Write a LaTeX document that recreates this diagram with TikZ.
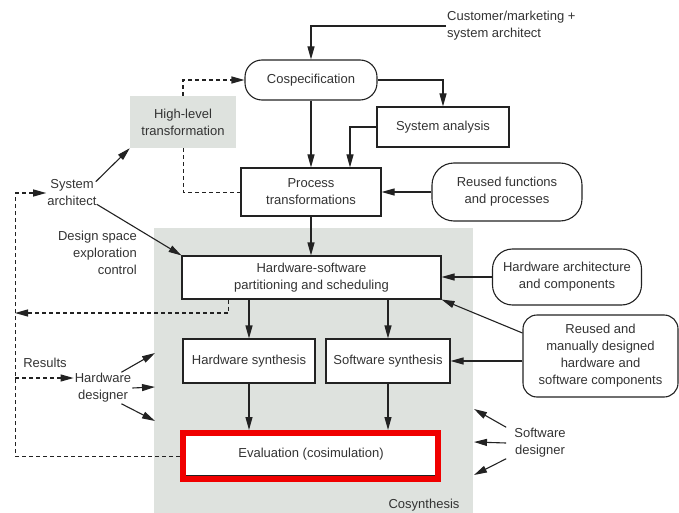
\documentclass[tikz,border=0pt]{standalone}
\usepackage{fontspec}
\setmainfont{Liberation Sans}
\usetikzlibrary{arrows.meta}
\definecolor{ink}{RGB}{34,34,34}
\definecolor{txt}{RGB}{51,51,51}
\definecolor{panel}{RGB}{222,226,222}
\definecolor{hilite}{RGB}{240,0,0}
\begin{document}
\begin{tikzpicture}[x=1pt,y=-1pt,
  every node/.style={font=\fontsize{13}{17}\selectfont, text=txt, align=center, inner sep=1pt},
  box/.style={draw=ink, fill=white, line width=1.1pt},
  pill/.style={draw=ink, fill=white, line width=1.1pt, rounded corners=#1},
  shade/.style={fill=panel},
  arr/.style={draw=ink, line width=1.1pt, -{Triangle[length=13pt,width=7pt]}},
  dsh/.style={draw=ink, line width=1pt, dash pattern=on 4pt off 3pt},
  evalframe/.style={draw=hilite, line width=5.7pt, inner sep=0pt}]
\useasboundingbox (0,0) rectangle (679,513);

% cosynthesis panel
\fill[panel] (154,228) rectangle (473,513);
\node (cosl) at (424,505) {Cosynthesis};

% upper flow
\node[anchor=west, align=left] (cust) at (446,26) {Customer/marketing +\\system architect};
\node[pill=17pt, minimum width=132, minimum height=40] (cospec) at (311,80) {Cospecification};
\node[box, minimum width=132, minimum height=40] (sysan) at (443,127) {System analysis};
\node[box, minimum width=140, minimum height=48] (proc) at (311,192) {Process\\transformations};
\node[pill=22pt, minimum width=150, minimum height=58] (rfn) at (507,192) {Reused functions\\and processes};
\node[shade, minimum width=106, minimum height=52] (hl) at (183,122) {High-level\\transformation};

% architect and control
\node (sa) at (72,193) {System\\architect};
\node[anchor=east, align=right] (dse) at (138,253) {Design space\\exploration\\control};

% partitioning and synthesis
\node[box, minimum width=259, minimum height=43] (hwsw) at (311.5,277.5) {Hardware-software\\partitioning and scheduling};
\node[pill=20pt, minimum width=149, minimum height=56] (hwa) at (567,277) {Hardware architecture\\and components};
\node[pill=14pt, minimum width=155, minimum height=82] (rm) at (600.5,356) {Reused and\\manually designed\\hardware and\\software components};
\node[box, minimum width=132, minimum height=44] (hws) at (249,361) {Hardware synthesis};
\node[box, minimum width=124, minimum height=44] (sws) at (388,361) {Software synthesis};

% evaluation
\node[box, minimum width=254, minimum height=43] (ev) at (311,454.5) {Evaluation (cosimulation)};
\node[evalframe, minimum width=255.3, minimum height=46.3] (evf) at (310.5,456) {};

% designers
\node (hd) at (103,388) {Hardware\\designer};
\node (res) at (45,363) {Results};
\node (sd) at (540,443) {Software\\designer};

% feedback coordinates
\coordinate (lt) at (15,193);
\coordinate (fb) at (15,313);
\coordinate (rs) at (15,378);
\coordinate (h1) at (155,353);
\coordinate (h2) at (155,387);
\coordinate (h3) at (155,421);
\coordinate (s1) at (474,409);
\coordinate (s2) at (474,442);
\coordinate (s3) at (474,475);

% solid connectors
\draw[arr] (cust.west) -| (cospec.north);
\draw[arr] (cospec.east) -| (sysan.north);
\draw[arr] (cospec.south) -- (proc.north);
\draw[arr] (sysan.west) -| ([xshift=39pt]proc.north);
\draw[arr] (rfn.west) -- (proc.east);
\draw[arr] (proc.south) -- (hwsw.north -| proc.south);
\draw[arr] (hwa.west) -- (hwa.west -| hwsw.east);
\draw[arr] ([yshift=23pt]rm.west) -- (hwsw.south east);
\draw[arr] (rm.west |- sws.east) -- (sws.east);
\draw[arr] (hwsw.south -| hws.north) -- (hws.north);
\draw[arr] (hwsw.south -| sws.north) -- (sws.north);
\draw[arr] (hws.south) -- (hws.south |- evf.north);
\draw[arr] (sws.south) -- (sws.south |- evf.north);
\draw[arr] ([shift={(-2pt,-3pt)}]sa.north east) -- (hl.south west);
\draw[arr] ([shift={(-1pt,3pt)}]sa.south east) -- (hwsw.north west);
\draw[arr] ([xshift=-11pt]hd.north east) -- (h1);
\draw[arr] (hd.east) -- (h2);
\draw[arr] ([xshift=-11pt]hd.south east) -- (h3);
\draw[arr] ([xshift=-7pt]sd.north west) -- (s1);
\draw[arr] ([xshift=-7pt]sd.west) -- (s2);
\draw[arr] ([xshift=-7pt]sd.south west) -- (s3);

% dashed connectors
\draw[arr, dash pattern=on 4pt off 3pt] (hl.north) |- (cospec.west);
\draw[dsh] (hl.south) |- (proc.west);
\draw[dsh] (evf.west) -| (lt);
\draw[arr, dash pattern=on 4pt off 3pt] (lt) -- (sa.west);
\draw[arr, dash pattern=on 4pt off 3pt] ([xshift=-83pt]hwsw.south) |- (fb);
\draw[arr, dash pattern=on 4pt off 3pt] (rs) -- (rs -| hd.west);
\end{tikzpicture}
\end{document}
